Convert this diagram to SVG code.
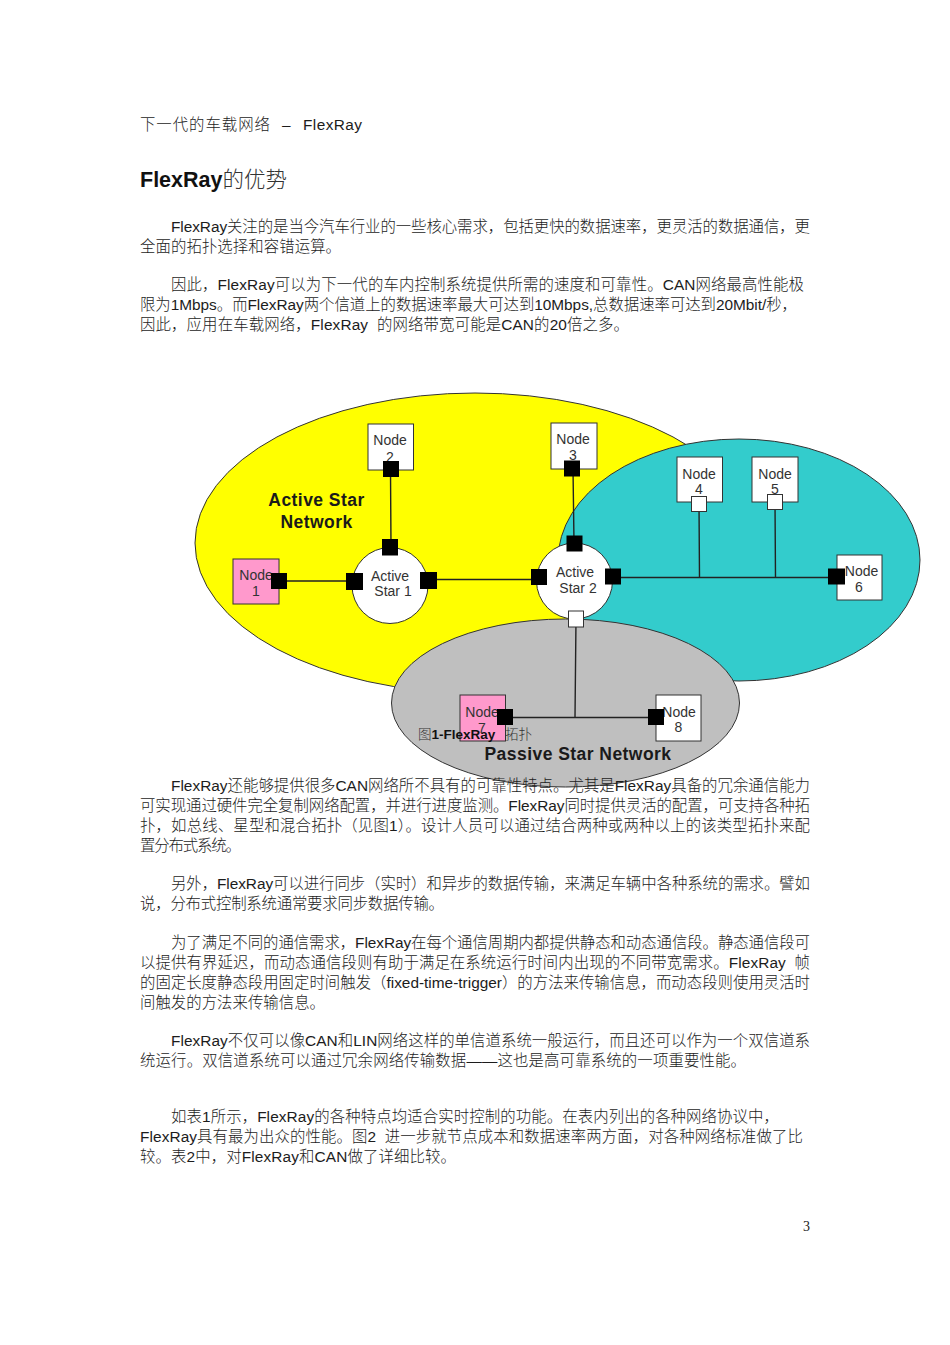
<svg xmlns="http://www.w3.org/2000/svg" width="950" height="1345" viewBox="0 0 950 1345">
<style>
text{font-family:"Liberation Sans","Noto Sans CJK SC",sans-serif}
.b{font-size:15.4px;fill:#1c1c1c;font-weight:300}
.n{font-size:14px;fill:#333;text-anchor:middle}
.t{font-size:17.5px;font-weight:700;fill:#1a1a1a;text-anchor:middle;letter-spacing:.45px}
.nb{fill:#fff;stroke:#333;stroke-width:1}
.pk{fill:#f9c}
.e{stroke:#333;stroke-width:1}
.c{stroke:#222;stroke-width:1.4;fill:none}
.pb{fill:#000}
.pw{fill:#fff;stroke:#333;stroke-width:1}
</style>
<rect width="950" height="1345" fill="#fff"/>
<g id="headings">
<text class="b" y="130" x="140" textLength="130">下一代的车载网络</text>
<text class="b" y="130" x="282">–</text>
<text class="b" y="130" x="303" textLength="59">FlexRay</text>
<text x="140" y="187" font-size="21.5"><tspan font-weight="700" fill="#111">FlexRay</tspan><tspan fill="#333" font-weight="300">的优势</tspan></text>
</g>
<g id="para-top">
<text class="b" x="171" y="232" textLength="639">FlexRay关注的是当今汽车行业的一些核心需求，包括更快的数据速率，更灵活的数据通信，更</text>
<text class="b" x="140" y="252" textLength="201">全面的拓扑选择和容错运算。</text>
<text class="b" x="171" y="290" textLength="633">因此，FlexRay可以为下一代的车内控制系统提供所需的速度和可靠性。CAN网络最高性能极</text>
<text class="b" x="140" y="310" textLength="657">限为1Mbps。而FlexRay两个信道上的数据速率最大可达到10Mbps,总数据速率可达到20Mbit/秒，</text>
<text class="b" x="140" y="330" textLength="489" xml:space="preserve">因此，应用在车载网络，FlexRay  的网络带宽可能是CAN的20倍之多。</text>
</g>
<g id="active-star-network"><ellipse class="e" cx="475" cy="543" rx="280" ry="150" fill="#ff0"/>
<text class="t" x="316.500" y="506">Active Star</text><text class="t" x="316.500" y="528">Network</text></g>
<g id="bus-network"><ellipse class="e" cx="739" cy="560" rx="181" ry="121" fill="#3cc"/></g>
<g id="passive-star-network"><ellipse class="e" cx="565.500" cy="703" rx="174" ry="84" fill="#bfbfbf"/>
<text class="t" x="578" y="760">Passive Star Network</text></g>
<g id="connectors">
<path class="c" d="M390.500 470L391 547M279 581H354M428 579.500H539M573 468L574 543M613 577.500H836M699 504L699.500 577.500M775 502L775.500 577.500M576 619L575 717M505 717.500H656"/>
</g>
<g id="node-1"><rect class="nb pk" x="233" y="559" width="46" height="45"/><text class="n" x="256" y="580">Node</text><text class="n" x="256" y="596">1</text></g>
<g id="node-2"><rect class="nb" x="368" y="424" width="45.500" height="46"/><text class="n" x="390" y="445">Node</text><text class="n" x="390" y="462">2</text></g>
<g id="node-3"><rect class="nb" x="551" y="423" width="46" height="46"/><text class="n" x="573" y="444">Node</text><text class="n" x="573" y="460">3</text></g>
<g id="node-4"><rect class="nb" x="677" y="457" width="45.500" height="45"/><text class="n" x="699" y="479">Node</text><text class="n" x="699" y="494">4</text></g>
<g id="node-5"><rect class="nb" x="752" y="457" width="46" height="45"/><text class="n" x="775" y="479">Node</text><text class="n" x="775" y="494">5</text></g>
<g id="node-6"><rect class="nb" x="837" y="555" width="45" height="45"/><text class="n" x="861.500" y="576">Node</text><text class="n" x="859" y="592">6</text></g>
<g id="node-7"><rect class="nb pk" x="460" y="695" width="45.500" height="46"/><text class="n" x="482" y="717">Node</text><text class="n" x="482" y="733">7</text></g>
<g id="node-8"><rect class="nb" x="656" y="695" width="45" height="46"/><text class="n" x="679" y="717">Node</text><text class="n" x="678.500" y="732">8</text></g>
<g id="active-star-1"><circle class="nb" cx="390" cy="585.500" r="38"/><text class="n" x="390" y="581">Active</text><text class="n" x="393" y="596">Star 1</text></g>
<g id="active-star-2"><circle class="nb" cx="574.500" cy="581" r="38"/><text class="n" x="575" y="577">Active</text><text class="n" x="578" y="593">Star 2</text></g>
<g id="ports">
<rect class="pb" x="383" y="461" width="16" height="16"/>
<rect class="pb" x="382" y="539" width="16" height="16.500"/>
<rect class="pb" x="271" y="573" width="16" height="16"/>
<rect class="pb" x="346" y="573" width="17" height="17"/>
<rect class="pb" x="420" y="572" width="17" height="17"/>
<rect class="pb" x="564" y="460.500" width="16" height="16"/>
<rect class="pb" x="566.500" y="535.500" width="16" height="16"/>
<rect class="pb" x="531" y="569" width="16" height="16"/>
<rect class="pb" x="605" y="568.500" width="16" height="16"/>
<rect class="pb" x="828" y="568.500" width="17" height="16"/>
<rect class="pb" x="497" y="709" width="16" height="16"/>
<rect class="pb" x="648" y="709" width="16" height="16"/>
<rect class="pw" x="691.500" y="496.500" width="15" height="15"/>
<rect class="pw" x="767.500" y="494.500" width="15" height="15"/>
<rect class="pw" x="568.500" y="611" width="15" height="16"/>
</g>
<g id="caption">
<text x="418" y="739" font-size="13.500" fill="#333" font-weight="300">图<tspan font-weight="700" fill="#111">1-FlexRay</tspan><tspan x="505">拓扑</tspan></text>
</g>
<g id="para-bottom">
<text class="b" x="171" y="791" textLength="639">FlexRay还能够提供很多CAN网络所不具有的可靠性特点。尤其是FlexRay具备的冗余通信能力</text>
<text class="b" x="140" y="811" textLength="670">可实现通过硬件完全复制网络配置，并进行进度监测。FlexRay同时提供灵活的配置，可支持各种拓</text>
<text class="b" x="140" y="831" textLength="670">扑，如总线、星型和混合拓扑（见图1）。设计人员可以通过结合两种或两种以上的该类型拓扑来配</text>
<text class="b" x="140" y="851" textLength="101">置分布式系统。</text>
<text class="b" x="171" y="889" textLength="639">另外，FlexRay可以进行同步（实时）和异步的数据传输，来满足车辆中各种系统的需求。譬如</text>
<text class="b" x="140" y="909" textLength="304">说，分布式控制系统通常要求同步数据传输。</text>
<text class="b" x="171" y="948" textLength="639">为了满足不同的通信需求，FlexRay在每个通信周期内都提供静态和动态通信段。静态通信段可</text>
<text class="b" x="140" y="968" textLength="670" xml:space="preserve">以提供有界延迟，而动态通信段则有助于满足在系统运行时间内出现的不同带宽需求。FlexRay  帧</text>
<text class="b" x="140" y="988" textLength="670">的固定长度静态段用固定时间触发（fixed-time-trigger）的方法来传输信息，而动态段则使用灵活时</text>
<text class="b" x="140" y="1008" textLength="185">间触发的方法来传输信息。</text>
<text class="b" x="171" y="1046" textLength="639">FlexRay不仅可以像CAN和LIN网络这样的单信道系统一般运行，而且还可以作为一个双信道系</text>
<text class="b" x="140" y="1066" textLength="606">统运行。双信道系统可以通过冗余网络传输数据——这也是高可靠系统的一项重要性能。</text>
<text class="b" x="171" y="1122" textLength="608">如表1所示，FlexRay的各种特点均适合实时控制的功能。在表内列出的各种网络协议中，</text>
<text class="b" x="140" y="1142" textLength="663" xml:space="preserve">FlexRay具有最为出众的性能。图2  进一步就节点成本和数据速率两方面，对各种网络标准做了比</text>
<text class="b" x="140" y="1162" textLength="316">较。表2中，对FlexRay和CAN做了详细比较。</text>
<text x="803" y="1231" font-size="14" fill="#222" style="font-family:'Liberation Serif',serif">3</text>
</g>
</svg>
